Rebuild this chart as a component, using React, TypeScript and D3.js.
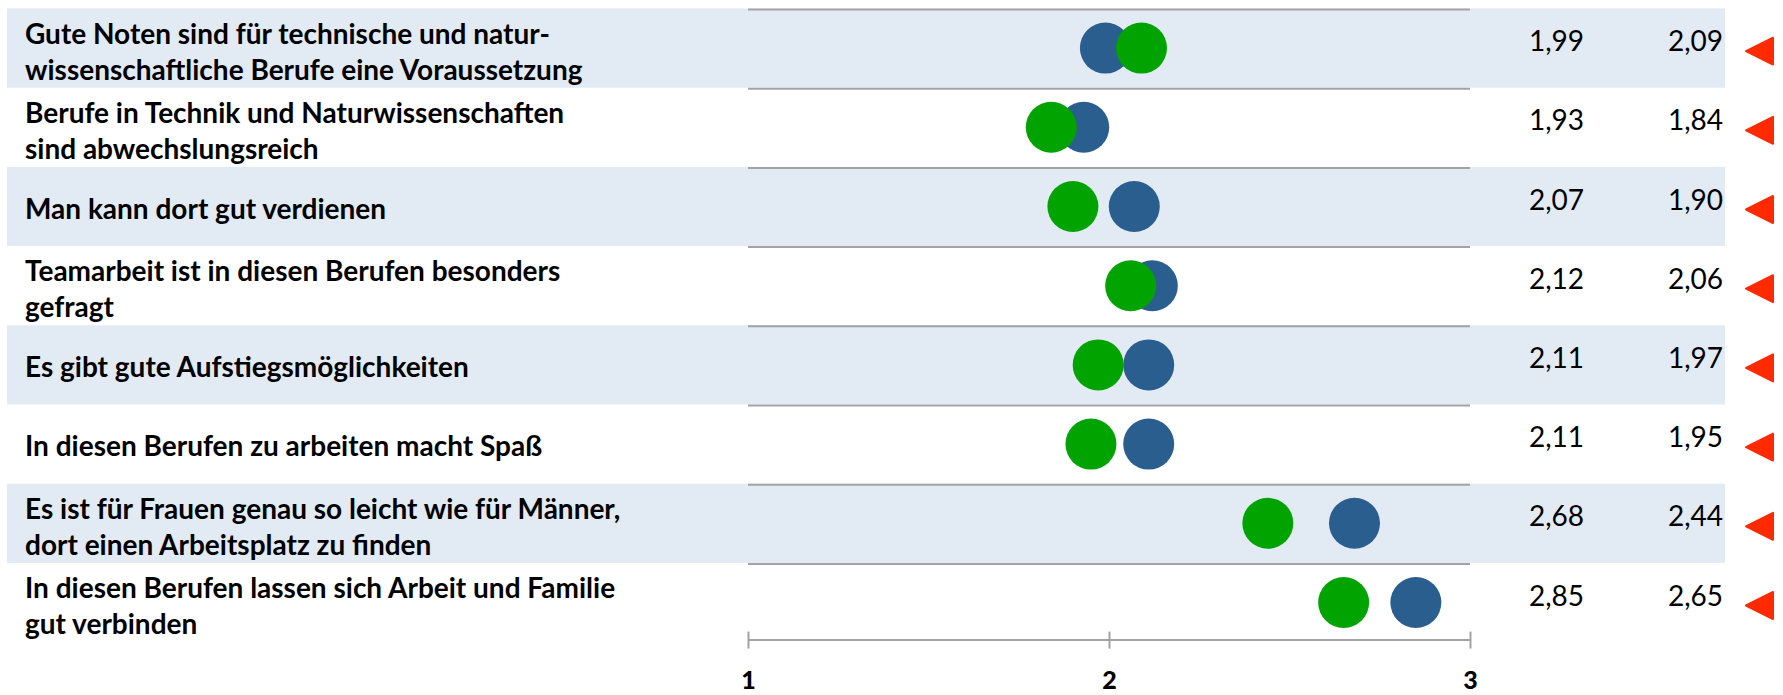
import React, { useEffect, useRef } from "react";
import * as d3 from "d3";

const labels: string[][] = [
  ["Gute Noten sind für technische und natur-", "wissenschaftliche Berufe eine Voraussetzung"],
  ["Berufe in Technik und Naturwissenschaften", "sind abwechslungsreich"],
  ["Man kann dort gut verdienen"],
  ["Teamarbeit ist in diesen Berufen besonders", "gefragt"],
  ["Es gibt gute Aufstiegsmöglichkeiten"],
  ["In diesen Berufen zu arbeiten macht Spaß"],
  ["Es ist für Frauen genau so leicht wie für Männer,", "dort einen Arbeitsplatz zu finden"],
  ["In diesen Berufen lassen sich Arbeit und Familie", "gut verbinden"],
];
const blueValues = [1.99, 1.93, 2.07, 2.12, 2.11, 2.11, 2.68, 2.85];
const greenValues = [2.09, 1.84, 1.9, 2.06, 1.97, 1.95, 2.44, 2.65];
const xTicks = [1, 2, 3];

const BLUE = "#2a5e8f";
const GREEN = "#00a300";
const BAND = "#e2eaf4";
const GRID = "#a3a3a3";
const RED = "#ff2a00";

const fmt = (v: number) => v.toFixed(2).replace(".", ",");

export default function App() {
  const ref = useRef<SVGSVGElement>(null);

  useEffect(() => {
    const svg = d3.select(ref.current);
    svg.selectAll("*").remove();

    const top = 8.5;
    const rowH = 79.2;
    const idx = labels.map((_, i) => i);

    const x = d3.scaleLinear().domain([1, 3]).range([748, 1470]);
    const y = d3.scaleBand<number>().domain(idx).range([top, top + rowH * labels.length]);
    const mid = (i: number) => y(i)! + y.bandwidth() / 2;

    // shaded rows
    svg.selectAll(".band")
      .data(idx.filter((i) => i % 2 === 0))
      .enter().append("rect")
      .attr("x", 7).attr("width", 1725 - 7)
      .attr("y", (i) => y(i)!).attr("height", y.bandwidth())
      .attr("fill", BAND);

    // grid lines at the top of each row
    svg.selectAll(".grid")
      .data(idx)
      .enter().append("line")
      .attr("x1", x(1)).attr("x2", x(3))
      .attr("y1", (i) => y(i)! + 1).attr("y2", (i) => y(i)! + 1)
      .attr("stroke", GRID).attr("stroke-width", 2);

    // bottom axis
    const axisY = y(labels.length - 1)! + y.bandwidth() - 2.5;
    const ax = svg.append("g").attr("transform", `translate(0,${axisY})`)
      .call(d3.axisBottom(x).tickValues(xTicks).tickSize(0).tickFormat(() => ""));
    ax.select(".domain").attr("stroke", GRID).attr("stroke-width", 2);
    ax.selectAll(".tick line").remove();
    ax.selectAll(".tick").append("line")
      .attr("y1", -8).attr("y2", 9)
      .attr("stroke", GRID).attr("stroke-width", 2);
    ax.selectAll(".tick").append("text")
      .attr("y", 49).attr("text-anchor", "middle")
      .attr("font-family", "Lato").attr("font-weight", 900)
      .attr("font-size", 25).attr("fill", "#000")
      .text((d: any) => String(d));

    // row labels
    const lab = svg.selectAll(".label")
      .data(idx)
      .enter().append("text")
      .attr("font-family", "Lato").attr("font-weight", "bold")
      .attr("font-size", 28).attr("fill", "#000");
    lab.each(function (i) {
      const lines = labels[i];
      const c = mid(i);
      const t = d3.select(this);
      if (lines.length === 1) {
        t.append("tspan").attr("x", 25).attr("y", c + 12).text(lines[0]);
      } else {
        t.append("tspan").attr("x", 25).attr("y", c - 4.5).text(lines[0]);
        t.append("tspan").attr("x", 25).attr("y", c + 31.5).text(lines[1]);
      }
    });

    // dots: blue first, green on top
    svg.selectAll(".blue")
      .data(idx)
      .enter().append("circle")
      .attr("cx", (i) => x(blueValues[i]))
      .attr("cy", mid)
      .attr("r", 25.5).attr("fill", BLUE);
    svg.selectAll(".green")
      .data(idx)
      .enter().append("circle")
      .attr("cx", (i) => x(greenValues[i]))
      .attr("cy", mid)
      .attr("r", 25.5).attr("fill", GREEN);

    // value columns
    const valueCols: [number[], number][] = [[blueValues, 1584], [greenValues, 1723]];
    valueCols.forEach(([vals, xe]) => {
      svg.selectAll(null)
        .data(idx)
        .enter().append("text")
        .attr("x", xe)
        .attr("y", (i) => mid(i) + 3)
        .attr("text-anchor", "end")
        .attr("font-family", "Lato").attr("font-size", 28).attr("fill", "#000")
        .text((i) => fmt(vals[i]));
    });

    // red markers
    svg.selectAll(".tri")
      .data(idx)
      .enter().append("path")
      .attr("d", (i) => {
        const c = mid(i) + 3;
        return `M1746,${c} L1773,${c - 13.5} L1773,${c + 13.5} Z`;
      })
      .attr("fill", RED)
      .attr("stroke", RED).attr("stroke-width", 2).attr("stroke-linejoin", "round");
  }, []);

  return (
    <svg
      ref={ref}
      width={1783}
      height={695}
      style={{ position: "absolute", left: 0, top: 0, background: "#fff" }}
    />
  );
}
